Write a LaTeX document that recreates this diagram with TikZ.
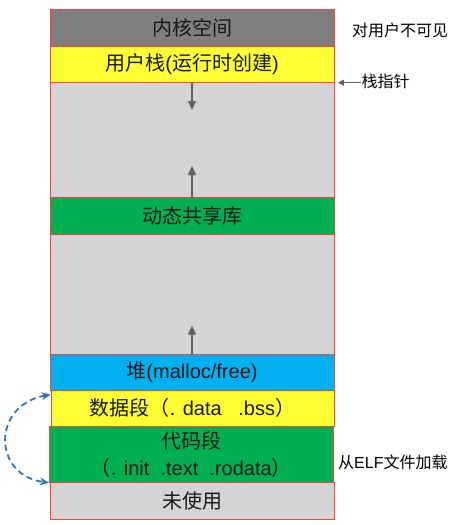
\documentclass[tikz,border=0pt]{standalone}
\usepackage{fontspec}
\setmainfont{Liberation Sans}
\newfontfamily\cjk{Noto Sans CJK SC}
\usepackage{tikz}
\usetikzlibrary{
  positioning,
  arrows.meta
}
\usepackage{xcolor}
\definecolor{segline}{HTML}{FF4040}
\definecolor{kernelgray}{HTML}{7F7F7F}
\definecolor{stackyellow}{HTML}{FFFF33}
\definecolor{freegray}{HTML}{D4D4D4}
\definecolor{libgreen}{HTML}{00B050}
\definecolor{heapblue}{HTML}{00B0F0}
\definecolor{growgray}{HTML}{606060}
\definecolor{loadblue}{HTML}{2E75B6}

\begin{document}
\begin{tikzpicture}[
  x=1pt, y=-1pt,
  seg/.style={draw=segline, line width=0.8pt, minimum width=284pt, inner sep=0pt,
              align=center, text=black!90, font=\fontsize{20}{27}\selectfont},
  note/.style={inner sep=0pt, font=\fontsize{16}{19}\selectfont},
  growarr/.style={-{Triangle[length=9pt, width=8pt]}, line width=1.5pt, growgray},
  ptr/.style={-{Triangle[length=6pt, width=6pt]}, line width=1pt, growgray},
  load/.style={{Stealth[length=9pt, width=8pt]}-{Stealth[length=9pt, width=8pt]},
               line width=1.8pt, dash pattern=on 6pt off 4pt, loadblue}
]
  \useasboundingbox (0,0) rectangle (458,525);

  % memory segments, top to bottom
  \node[seg, fill=kernelgray, minimum height=37.4pt] (kernel) at (192,28) {\cjk 内核空间};
  \node[seg, fill=stackyellow, minimum height=35.6pt] (ustack) at (192,64.5) {{\cjk 用户栈}({\cjk 运行时创建})};
  \node[seg, fill=freegray, minimum height=115.4pt] (freeA) at (192,140) {};
  \node[seg, fill=libgreen, minimum height=36.6pt] (shlib) at (192,216) {\cjk 动态共享库};
  \node[seg, fill=freegray, minimum height=119.7pt] (freeB) at (192,294.15) {};
  \node[seg, fill=heapblue, minimum height=36pt] (heap) at (192,372) {{\cjk 堆}(malloc/free)};
  \node[seg, fill=stackyellow, minimum height=36.7pt, minimum width=283pt] (data) at (192.5,408.35)
    {{\cjk 数据段（}. data\ \ \ .bss{\cjk ）}};
  \node[seg, fill=libgreen, minimum height=55.6pt] (code) at (191.3,454.5)
    {{\cjk 代码段}\\{\cjk （}. init\ \ .text\ \ .rodata{\cjk ）}};
  \node[seg, fill=freegray, minimum height=36.7pt] (unused) at (192,500.65) {\cjk 未使用};

  % growth directions
  \coordinate (stackend) at (192,110);
  \coordinate (mmapend) at (192,166);
  \coordinate (heapend) at (192,325.7);
  \draw[growarr] (ustack.south) -- (stackend);
  \draw[growarr] (shlib.north) -- (mmapend);
  \draw[growarr] (heap.north) -- (heapend);

  % side notes
  \node[note] (hidden) at (400,30) {\cjk 对用户不可见};
  \node[note, anchor=west, xshift=27pt, yshift=1.5pt] (sp) at (ustack.south east) {\cjk 栈指针};
  \draw[ptr] (sp.west |- ustack.south) -- ([xshift=3.5pt]ustack.south east);
  \node[note, anchor=west] (elf) at (338,462) {{\cjk 从}ELF{\cjk 文件加载}};

  \draw[load] ([yshift=-5pt]data.north west) .. controls (-8,405) and (-8,475) .. (code.south west);
\end{tikzpicture}
\end{document}
